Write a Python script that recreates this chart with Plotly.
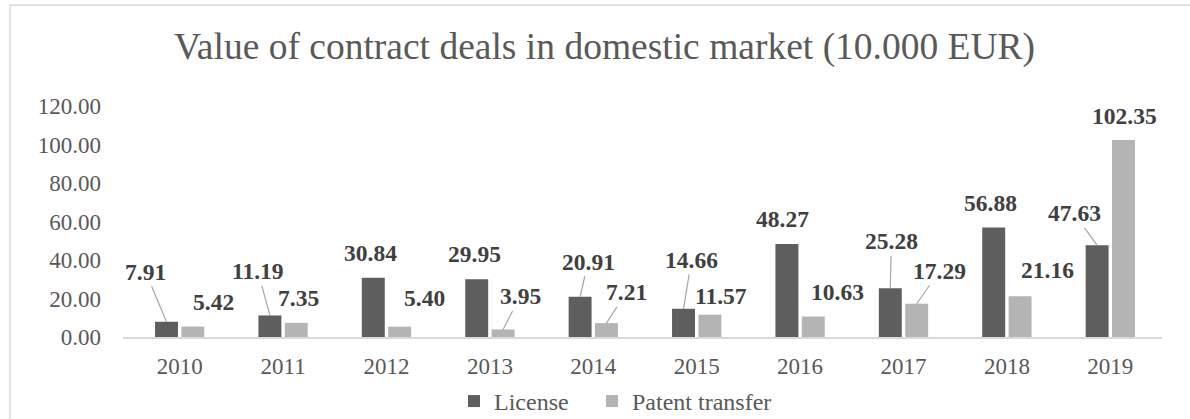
import plotly.graph_objects as go

years = ['2010', '2011', '2012', '2013', '2014', '2015', '2016', '2017', '2018', '2019']
license_vals = [7.91, 11.19, 30.84, 29.95, 20.91, 14.66, 48.27, 25.28, 56.88, 47.63]
patent_vals = [5.42, 7.35, 5.40, 3.95, 7.21, 11.57, 10.63, 17.29, 21.16, 102.35]
y_ticks = [0, 20, 40, 60, 80, 100, 120]

# label placement (pixel offsets from bar top) and leader-line flags
lic_off = [(-21, -50), (-12, -44), (-3, -25), (-2, -25), (8, -35), (8, -49), (-4, -25), (1, -47), (-3, -25), (-23, -32)]
lic_lead = [True, True, False, False, True, True, False, True, False, True]
pat_off = [(21, -25), (2, -25), (25, -29), (17, -33), (20, -31), (11, -19), (24, -25), (23, -33), (27, -26), (1, -24)]
pat_lead = [False, False, False, True, True, False, False, True, False, False]

DARK = '#5e5e5e'
LIGHT = '#b4b4b4'
TXT = '#595959'
FONT = 'Liberation Serif, Times New Roman, serif'

fig = go.Figure()
fig.add_trace(go.Bar(name='License', x=years, y=license_vals, marker_color=DARK, legend='legend'))
fig.add_trace(go.Bar(name='Patent transfer', x=years, y=patent_vals, marker_color=LIGHT, legend='legend2'))

BARGAP = 0.49
half = (1 - BARGAP) / 4

annotations = []
for vals, offs, leads, sign in ((license_vals, lic_off, lic_lead, -1), (patent_vals, pat_off, pat_lead, 1)):
    for i, v in enumerate(vals):
        ax, ay = offs[i]
        annotations.append(dict(
            x=i + sign * half, y=v, xref='x', yref='y',
            text=f'{v:.2f}', showarrow=True, ax=ax, ay=ay,
            arrowhead=0, arrowwidth=1.2, standoff=0,
            arrowcolor='#a6a6a6' if leads[i] else 'rgba(0,0,0,0)',
            font=dict(family=FONT, size=23.5, color='#404040', weight='bold'),
        ))

legend_common = dict(orientation='h', xanchor='left', y=-0.279, yanchor='middle',
                     font=dict(family=FONT, size=24, color=TXT), bgcolor='rgba(0,0,0,0)')

fig.update_layout(
    template='none',
    width=1190, height=419,
    margin=dict(l=123, r=28, t=106, b=81.5, autoexpand=False),
    paper_bgcolor='white', plot_bgcolor='white',
    barmode='group', bargap=BARGAP, bargroupgap=0.13,
    title=dict(text='Value of contract deals in domestic market (10.000 EUR)',
               font=dict(family=FONT, size=37.5, color=TXT),
               x=0.508, xanchor='center', y=0.89, yanchor='middle', yref='container'),
    font=dict(family=FONT, color=TXT),
    showlegend=True,
    legend=dict(x=0.3186, **legend_common),
    legend2=dict(x=0.4514, **legend_common),
    annotations=annotations,
    shapes=[dict(type='rect', xref='paper', yref='paper', x0=-0.1088, y0=-0.5, x1=1.2, y1=1.436,
                 line=dict(color='#d9d9d9', width=1.5), layer='below')],
)
fig.update_xaxes(type='category', showline=True, linecolor='#d9d9d9', linewidth=1.5, showgrid=False,
                 zeroline=False, ticks='', tickfont=dict(family=FONT, size=23, color=TXT),
                 ticklabelstandoff=8)
fig.update_yaxes(range=[0, 120], tickvals=y_ticks, tickformat='.2f', showgrid=False, zeroline=False,
                 showline=False, ticks='', tickfont=dict(family=FONT, size=23, color=TXT),
                 ticklabelstandoff=21)

fig.write_html('out.html', config={'displayModeBar': False},
               post_script="document.body.style.margin='0';")
